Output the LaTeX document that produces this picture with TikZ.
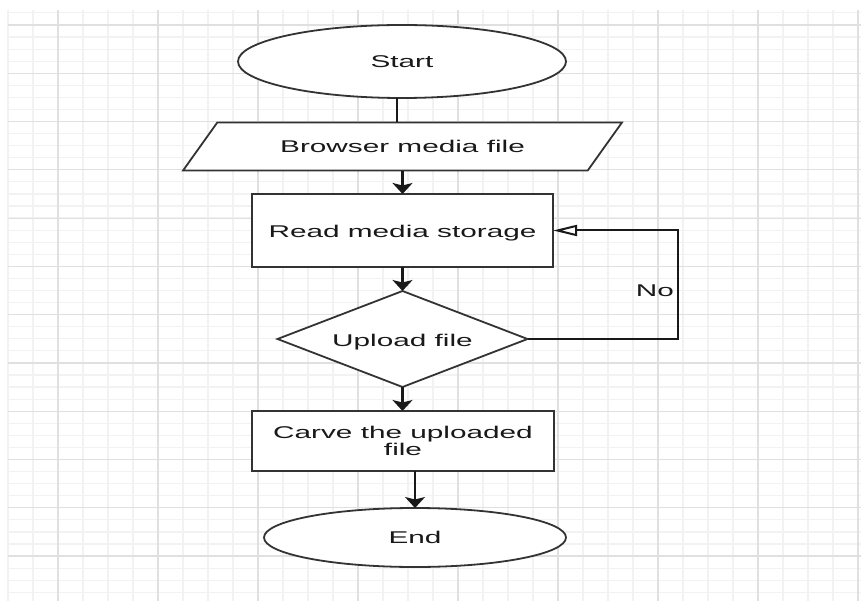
\documentclass[tikz,border=0pt]{standalone}
\usepackage{fontspec}
\setmainfont{Liberation Sans}[FakeStretch=1.75]
\usetikzlibrary{shapes.geometric,arrows.meta}
\begin{document}
\begin{tikzpicture}[x=1pt,y=-1pt,
  box/.style={draw=black!80, line width=1.8pt, fill=white, inner sep=0pt, outer sep=0pt,
    font=\fontsize{17}{19}\selectfont, text=black!90, align=center},
  lowtext/.style={text height=16pt, text depth=1.3pt},
  conn/.style={draw=black!90, line width=2.2pt},
  arr/.style={conn, -{Stealth[length=11pt,width=20pt,inset=2.5pt]}},
  minorg/.style={draw=black!5, line width=1.2pt},
  majorg/.style={draw=black!12, line width=1.2pt},
  lbl/.style={font=\fontsize{17}{19}\selectfont, text=black!90}]
\useasboundingbox (0,0) rectangle (861,601);
\fill[white] (0,0) rectangle (861,601);
% grid
\foreach \k in {0,...,34} \draw[minorg] (8+25*\k,10) -- (8+25*\k,601);
\foreach \j in {0,...,48} \draw[minorg] (8,12.9+12.07*\j) -- (861,12.9+12.07*\j);
\foreach \k in {2,6,...,34} \draw[majorg] (8+25*\k,10) -- (8+25*\k,601);
\foreach \m in {0,...,11} \draw[majorg] (8,25+48.28*\m) -- (861,25+48.28*\m);
% nodes
\node[box, ellipse, minimum width=328pt, minimum height=73pt] (start) at (402,61.5) {Start};
\node[box, trapezium, trapezium left angle=28.9, trapezium right angle=151.1,
  trapezium stretches=true, minimum width=439pt, minimum height=48pt] (browser) at (402.5,146.5) {Browser media file};
\node[box, rectangle, lowtext, minimum width=301pt, minimum height=73pt] (read) at (402.5,230.5) {Read media storage};
\node[box, diamond, lowtext, aspect=2.6, minimum width=250pt, minimum height=96pt] (upload) at (402.5,339) {Upload file};
\node[box, rectangle, minimum width=302pt, minimum height=60pt] (carve) at (403,441) {Carve the uploaded\\[-2pt]file};
\node[box, ellipse, minimum width=302pt, minimum height=59pt] (end) at (415,537.5) {End};
\coordinate (loopc) at (678,339);
\node[lbl] (no) at (655,291) {No};
% connectors
\draw[conn] ([xshift=-5pt]start.south) -- ([xshift=-5pt]start.south |- browser.north);
\draw[arr] (browser.south) -- (browser.south |- read.north);
\draw[arr] (read.south) -- (read.south |- upload.north);
\draw[arr] (upload.south) -- (upload.south |- carve.north);
\draw[arr] ([xshift=12pt]carve.south) -- (end.north);
\draw[conn, line width=2pt, -{Triangle[open,length=24pt,width=11pt,fill=white]}]
  (upload.east) -- (loopc) |- (read.east);
\end{tikzpicture}
\end{document}
